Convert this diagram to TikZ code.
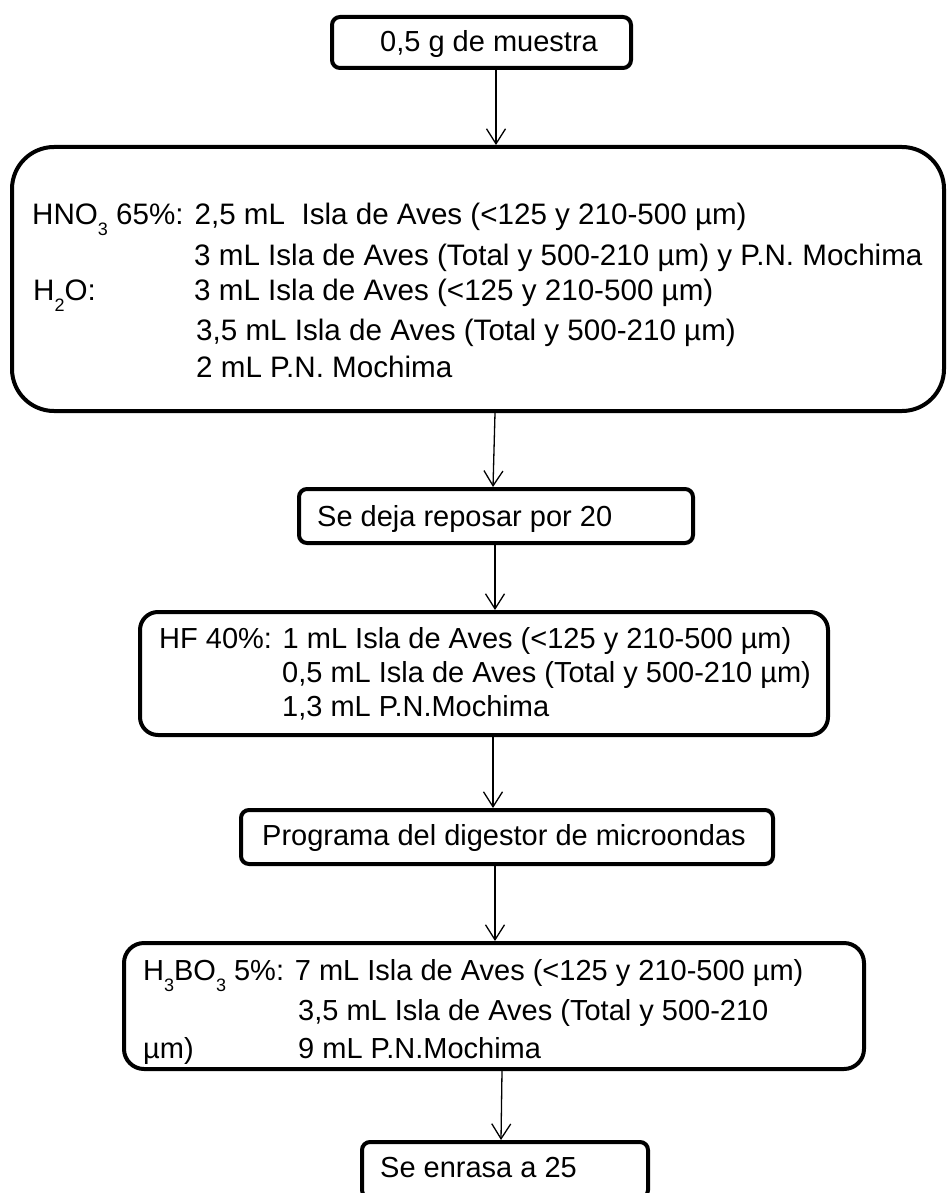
\documentclass[tikz,border=0pt]{standalone}
\usepackage{fontspec}
\setmainfont{Liberation Sans}
\usetikzlibrary{arrows.meta}
\newcommand{\sbx}[1]{\raisebox{-11pt}{\fontsize{18}{18}\selectfont #1}}
\begin{document}
\begin{tikzpicture}[x=1pt,y=-1pt,
  box/.style={draw=black, line width=4pt, rounded corners=#1, inner sep=0pt, fill=white},
  box/.default=8pt,
  txt/.style={anchor=base west, inner sep=0pt, font=\fontsize{29}{34}\selectfont},
  wtxt/.style={txt, font=\fontsize{29.6}{34}\selectfont},
  arr/.style={line width=1.3pt, -{Straight Barb[length=15pt,width=19pt,line width=1.3pt]}}]
\useasboundingbox (0,0) rectangle (949,1193);
% boxes
\node[box, minimum width=299pt, minimum height=51pt] (b1) at (481.5,42.5) {};
\node[box=42pt, minimum width=932pt, minimum height=264pt] (b2) at (478,279) {};
\node[box, minimum width=394pt, minimum height=54pt] (b3) at (496,516) {};
\node[box=18pt, minimum width=688pt, minimum height=123pt] (b4) at (484,673.5) {};
\node[box, minimum width=532pt, minimum height=54pt] (b5) at (507,837) {};
\node[box=20pt, minimum width=740pt, minimum height=126pt] (b6) at (494,1006) {};
\node[box, minimum width=286pt, minimum height=56pt] (b7) at (505,1170) {};
% texts
\node[txt] (t1) at (380,52) {0,5 g de muestra};
\node[wtxt] (t2a) at (32,224) {HNO\sbx{3} 65\%: 2,5 mL\ \ Isla de Aves (<125 y 210-500 µm)};
\node[wtxt] (t2b) at (194,265) {3 mL Isla de Aves (Total y 500-210 µm) y P.N. Mochima};
\node[wtxt] (t2c) at (33,300) {H\sbx{2}O:};
\node[wtxt] (t2d) at (194,300) {3 mL Isla de Aves (<125 y 210-500 µm)};
\node[wtxt] (t2e) at (196,340) {3,5 mL Isla de Aves (Total y 500-210 µm)};
\node[wtxt] (t2f) at (196,377) {2 mL P.N. Mochima};
\node[txt] (t3) at (317,526) {Se deja reposar por 20};
\node[txt] (t4a) at (159,648) {HF 40\%: 1 mL Isla de Aves (<125 y 210-500 µm)};
\node[txt] (t4b) at (282,682) {0,5 mL Isla de Aves (Total y 500-210 µm)};
\node[txt] (t4c) at (282,716) {1,3 mL P.N.Mochima};
\node[txt] (t5) at (262,845) {Programa del digestor de microondas};
\node[txt] (t6a) at (143,980) {H\sbx{3}BO\sbx{3} 5\%: 7 mL Isla de Aves (<125 y 210-500 µm)};
\node[txt] (t6b) at (298,1020) {3,5 mL Isla de Aves (Total y 500-210};
\node[txt] (t6c) at (143,1058) {µm)};
\node[txt] (t6d) at (298,1058) {9 mL P.N.Mochima};
\node[txt] (t7) at (380,1177) {Se enrasa a 25};
% arrows
\draw[arr] ([xshift=14.5pt]b1.south) -- ([xshift=18pt]b2.north);
\draw[arr] ([xshift=17pt]b2.south) -- ([xshift=-3pt]b3.north);
\draw[arr] ([xshift=-1pt]b3.south) -- ([xshift=11pt]b4.north);
\draw[arr] ([xshift=9pt]b4.south) -- ([xshift=-14pt]b5.north);
\draw[arr] ([xshift=-12pt]b5.south) -- ([xshift=1pt]b6.north);
\draw[arr] ([xshift=8pt]b6.south) -- ([xshift=-4pt]b7.north);
\end{tikzpicture}
\end{document}
